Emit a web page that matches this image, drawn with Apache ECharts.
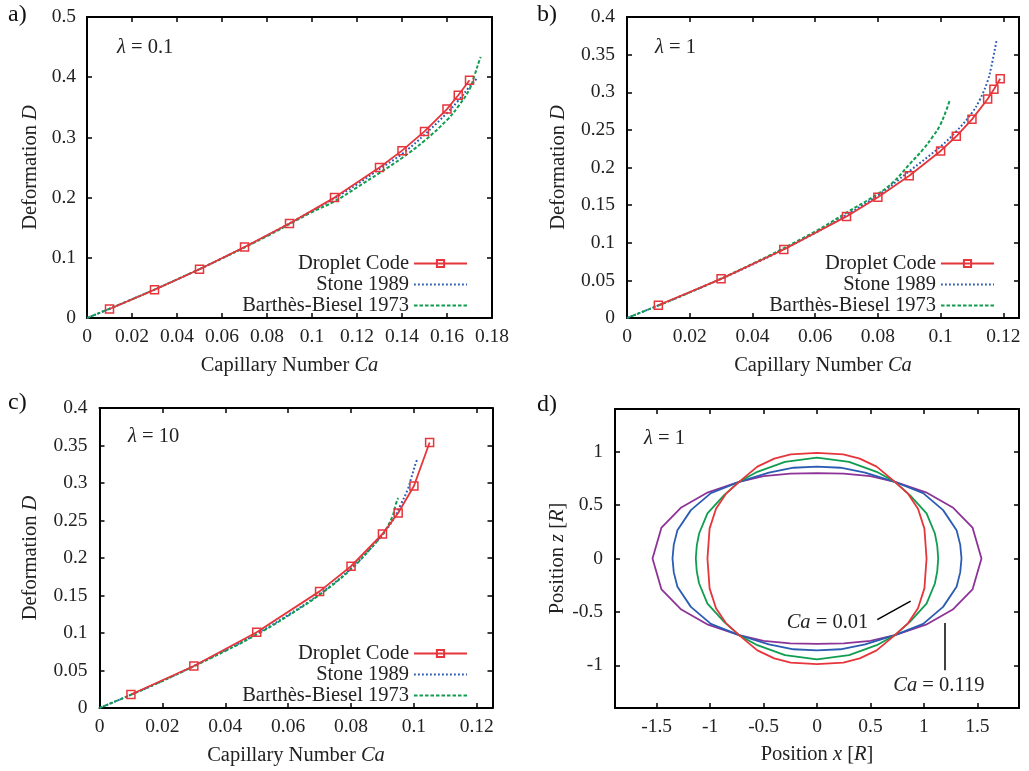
<!DOCTYPE html>
<html>
<head>
<meta charset="utf-8">
<script src="https://cdn.jsdelivr.net/npm/echarts@6/dist/echarts.min.js"></script>
<style>
  html, body { margin: 0; padding: 0; background: #fff; }
  #chart { width: 1029px; height: 771px; }
</style>
</head>
<body>
<div id="chart"></div>
<script>
// ---------------- data ----------------
// a) lambda = 0.1
const dropletCaA = [0.01, 0.03, 0.05, 0.07, 0.09, 0.11, 0.13, 0.14, 0.15, 0.16, 0.165, 0.17];
const dropletDA  = [0.015, 0.047, 0.081, 0.118, 0.157, 0.200, 0.250, 0.278, 0.310, 0.347, 0.370, 0.395];
const stoneCaA   = [0, 0.02, 0.04, 0.06, 0.08, 0.10, 0.11, 0.12, 0.13, 0.14, 0.15, 0.16, 0.165, 0.17, 0.1738];
const stoneDA    = [0, 0.031, 0.064, 0.099, 0.137, 0.178, 0.199, 0.222, 0.2475, 0.2724, 0.3045, 0.3405, 0.361, 0.384, 0.400];
const bbCaA      = [0, 0.02, 0.04, 0.06, 0.08, 0.10, 0.11, 0.12, 0.13, 0.14, 0.15, 0.16, 0.165, 0.17, 0.1723, 0.1745, 0.175];
const bbDA       = [0, 0.031, 0.064, 0.099, 0.136, 0.176, 0.1937, 0.217, 0.241, 0.2658, 0.2945, 0.329, 0.3515, 0.380, 0.404, 0.429, 0.4335];

// b) lambda = 1
const dropletCaB = [0.01, 0.03, 0.05, 0.07, 0.08, 0.09, 0.10, 0.105, 0.11, 0.115, 0.117, 0.119];
const dropletDB  = [0.017, 0.052, 0.091, 0.135, 0.1605, 0.189, 0.222, 0.2415, 0.264, 0.291, 0.304, 0.318];
const stoneCaB   = [0, 0.02, 0.04, 0.06, 0.07, 0.08, 0.09, 0.10, 0.105, 0.11, 0.1125, 0.115, 0.1162, 0.1178];
const stoneDB    = [0, 0.034, 0.071, 0.113, 0.137, 0.163, 0.195, 0.228, 0.248, 0.2727, 0.290, 0.315, 0.3346, 0.368];
const bbCaB      = [0, 0.02, 0.04, 0.06, 0.07, 0.08, 0.085, 0.09, 0.0944, 0.0976, 0.0997, 0.1019, 0.1029];
const bbDB       = [0, 0.034, 0.072, 0.115, 0.140, 0.165, 0.181, 0.204, 0.224, 0.2416, 0.255, 0.277, 0.2894];

// c) lambda = 10
const dropletCaC = [0.01, 0.03, 0.05, 0.07, 0.08, 0.09, 0.095, 0.10, 0.105];
const dropletDC  = [0.018, 0.056, 0.101, 0.1555, 0.189, 0.232, 0.260, 0.296, 0.354];
const stoneCaC   = [0, 0.02, 0.04, 0.05, 0.06, 0.07, 0.08, 0.09, 0.0937, 0.0958, 0.098, 0.099, 0.1006, 0.1011];
const stoneDC    = [0, 0.036, 0.077, 0.099, 0.124, 0.152, 0.186, 0.231, 0.2533, 0.271, 0.291, 0.3044, 0.3267, 0.332];
const bbCaC      = [0, 0.02, 0.04, 0.05, 0.06, 0.07, 0.08, 0.0878, 0.090, 0.0916, 0.0932, 0.0942, 0.095];
const bbDC       = [0, 0.036, 0.076, 0.098, 0.123, 0.151, 0.185, 0.220, 0.231, 0.242, 0.2555, 0.271, 0.280];

// d) droplet outlines (lambda = 1), upper-right quadrant from top (x = 0) to tip (z = 0)
const shapeCa001  = [[0, 0.99], [0.246, 0.975], [0.40, 0.935], [0.558, 0.86], [0.729, 0.718], [0.853, 0.605], [0.945, 0.465], [1.005, 0.28], [1.025, 0]];
const shapeCa005  = [[0, 0.944], [0.30, 0.905], [0.558, 0.812], [0.729, 0.718], [0.869, 0.593], [1.025, 0.422], [1.103, 0.234], [1.125, 0.12], [1.134, 0]];
const shapeCa010  = [[0, 0.86], [0.22, 0.85], [0.45, 0.805], [0.729, 0.718], [0.993, 0.612], [1.18, 0.453], [1.306, 0.265], [1.34, 0.13], [1.352, 0]];
const shapeCa0119 = [[0, 0.80], [0.25, 0.795], [0.50, 0.772], [0.729, 0.718], [1.02, 0.62], [1.27, 0.478], [1.455, 0.29], [1.539, 0]];

const xTicksD = [-1.5, -1, -0.5, 0, 0.5, 1, 1.5];
const yTicksD = [-1, -0.5, 0, 0.5, 1];

const legendNames = ['Droplet Code', 'Stone 1989', 'Barthès-Biesel 1973'];

// ---------------- styling ----------------
const FONT = 'Liberation Serif';
const TXT = '#222';
const FS = 19.5;    // tick labels
const FS2 = 20.5;   // titles, legend, annotations
const RED = '#e6353b';
const BLUE = '#2a5cb3';
const GREEN = '#0f9d4f';
const PURPLE = '#8d3398';
const CLEAR = 'rgba(255,255,255,0)';

const zip = (xs, ys) => xs.map((x, i) => [x, ys[i]]);

// closed outline from one quadrant, mirrored about both axes
function outline(q) {
  const pts = q.map(p => [p[0], p[1]]);
  for (let i = q.length - 2; i >= 0; i--) pts.push([q[i][0], -q[i][1]]);
  for (let i = 1; i < q.length; i++) pts.push([-q[i][0], -q[i][1]]);
  for (let i = q.length - 2; i >= 0; i--) pts.push([-q[i][0], q[i][1]]);
  return pts;
}

const richText = {
  r: { fontFamily: FONT, fontSize: FS2, color: TXT },
  i: { fontFamily: FONT, fontSize: FS2, fontStyle: 'italic', color: TXT }
};

function axisPair(kind, grid, cfg) {
  const base = {
    gridIndex: grid, type: 'value', min: cfg.min, max: cfg.max,
    axisLine: { show: true, onZero: false, lineStyle: { color: '#000', width: 2 } },
    axisTick: { show: true, inside: true, length: 5, lineStyle: { color: '#000', width: 1.5 } },
    splitLine: { show: false }
  };
  if (cfg.interval !== undefined) base.interval = cfg.interval;
  if (cfg.ticks) base.axisTick.customValues = cfg.ticks;
  const main = Object.assign({}, base, {
    position: kind === 'x' ? 'bottom' : 'left',
    axisLabel: {
      color: TXT, fontFamily: FONT, fontSize: FS, margin: kind === 'x' ? 9 : cfg.labelMargin,
      showMaxLabel: cfg.showMax !== false
    },
    name: cfg.name, nameLocation: 'middle', nameGap: cfg.nameGap,
    nameTextStyle: { fontFamily: FONT, fontSize: FS2, color: TXT, rich: richText }
  });
  if (cfg.ticks) main.axisLabel.customValues = cfg.ticks;
  const mirror = Object.assign({}, base, {
    position: kind === 'x' ? 'top' : 'right',
    axisLabel: { show: false }
  });
  return [main, mirror];
}

const caName = '{r|Capillary Number }{i|Ca}';
const dName = '{r|Deformation }{i|D}';

const xAxes = [].concat(
  axisPair('x', 0, { min: 0, max: 0.18, interval: 0.02, name: caName, nameGap: 37 }),
  axisPair('x', 1, { min: 0, max: 0.125, interval: 0.02, showMax: false, name: caName, nameGap: 37 }),
  axisPair('x', 2, { min: 0, max: 0.125, interval: 0.02, showMax: false, name: caName, nameGap: 37 }),
  axisPair('x', 3, { min: -1.89, max: 1.89, ticks: xTicksD, name: '{r|Position }{i|x}{r| [}{i|R}{r|]}', nameGap: 36 })
);
const yAxes = [].concat(
  axisPair('y', 0, { min: 0, max: 0.5, interval: 0.1, labelMargin: 11, name: dName, nameGap: 46 }),
  axisPair('y', 1, { min: 0, max: 0.4, interval: 0.05, labelMargin: 12, name: dName, nameGap: 58 }),
  axisPair('y', 2, { min: 0, max: 0.4, interval: 0.05, labelMargin: 12, name: dName, nameGap: 58 }),
  axisPair('y', 3, { min: -1.4, max: 1.4, ticks: yTicksD, labelMargin: 12, name: '{r|Position }{i|z}{r| [}{i|R}{r|]}', nameGap: 45 })
);

function panelSeries(idx, dCa, dD, sCa, sD, bCa, bD) {
  const ax = idx * 2;
  return [
    {
      name: legendNames[1], type: 'line', xAxisIndex: ax, yAxisIndex: ax,
      data: zip(sCa, sD), showSymbol: false, symbol: 'circle', symbolSize: 0, smooth: 0.4,
      lineStyle: { color: BLUE, width: 2, type: [1.8, 2.2] },
      itemStyle: { color: CLEAR, borderColor: CLEAR, borderWidth: 0 }, z: 2
    },
    {
      name: legendNames[2], type: 'line', xAxisIndex: ax, yAxisIndex: ax,
      data: zip(bCa, bD), showSymbol: false, symbol: 'circle', symbolSize: 0, smooth: 0.4,
      lineStyle: { color: GREEN, width: 2, type: [3.5, 2] },
      itemStyle: { color: CLEAR, borderColor: CLEAR, borderWidth: 0 }, z: 2
    },
    {
      name: legendNames[0], type: 'line', xAxisIndex: ax, yAxisIndex: ax,
      data: zip(dCa, dD), symbol: 'rect', symbolSize: 8, showSymbol: true,
      lineStyle: { color: RED, width: 1.8 },
      itemStyle: { color: CLEAR, borderColor: RED, borderWidth: 1.5 }, z: 3
    }
  ];
}

function shapeSeries(name, q, color, extra) {
  return Object.assign({
    name: name, type: 'line', xAxisIndex: 6, yAxisIndex: 6,
    data: outline(q), showSymbol: false, symbol: 'none', smooth: false,
    lineStyle: { color: color, width: 1.8 }, itemStyle: { color: color }
  }, extra || {});
}

const series = [].concat(
  panelSeries(0, dropletCaA, dropletDA, stoneCaA, stoneDA, bbCaA, bbDA),
  panelSeries(1, dropletCaB, dropletDB, stoneCaB, stoneDB, bbCaB, bbDB),
  panelSeries(2, dropletCaC, dropletDC, stoneCaC, stoneDC, bbCaC, bbDC),
  [
    shapeSeries('Ca = 0.119', shapeCa0119, PURPLE, {
      markLine: {
        silent: true, symbol: ['none', 'none'], label: { show: false },
        lineStyle: { color: '#000', width: 1.5, type: 'solid' },
        data: [
          [{ coord: [0.564, -0.572] }, { coord: [0.876, -0.40] }],
          [{ coord: [1.196, -0.604] }, { coord: [1.196, -1.047] }]
        ]
      },
      markPoint: {
        silent: true, symbol: 'circle', symbolSize: 0,
        label: { show: true, position: 'inside', fontFamily: FONT, fontSize: FS2, color: TXT, rich: richText },
        data: [
          { coord: [0.098, -0.604], label: { formatter: '{i|Ca}{r| = 0.01}' } },
          { coord: [1.14, -1.187], label: { formatter: '{i|Ca}{r| = 0.119}' } }
        ]
      }
    }),
    shapeSeries('Ca = 0.10', shapeCa010, BLUE),
    shapeSeries('Ca = 0.05', shapeCa005, GREEN),
    shapeSeries('Ca = 0.01', shapeCa001, RED)
  ]
);

function legendAt(right, top) {
  return {
    data: legendNames, orient: 'vertical', align: 'right', right: right, top: top,
    padding: 0, itemGap: 0, itemWidth: 53, itemHeight: 9, selectedMode: false,
    textStyle: { fontFamily: FONT, fontSize: FS2, color: TXT }
  };
}

function lambdaLabel(x, y, value) {
  return {
    type: 'text', x: x, y: y, silent: true,
    style: {
      text: '{i|λ}{r| = ' + value + '}', rich: richText,
      verticalAlign: 'middle', align: 'left', fill: TXT, fontFamily: FONT, fontSize: FS2
    }
  };
}

function panelLetter(x, y, t) {
  return {
    type: 'text', x: x, y: y, silent: true,
    style: { text: t, fontFamily: FONT, fontSize: 24, fill: '#111', verticalAlign: 'middle', align: 'left' }
  };
}

const option = {
  animation: false,
  backgroundColor: '#fff',
  grid: [
    { left: 87, top: 17, width: 405, height: 301 },
    { left: 627, top: 17, width: 392, height: 301 },
    { left: 99.5, top: 408, width: 393, height: 300 },
    { left: 615, top: 409, width: 404, height: 299 }
  ],
  xAxis: xAxes,
  yAxis: yAxes,
  legend: [legendAt(561, 253), legendAt(34, 253), legendAt(561, 643)],
  series: series,
  graphic: [
    lambdaLabel(117, 48, '0.1'),
    lambdaLabel(655, 48, '1'),
    lambdaLabel(128, 437, '10'),
    lambdaLabel(644, 439, '1'),
    panelLetter(8, 15, 'a)'),
    panelLetter(537, 15, 'b)'),
    panelLetter(8, 403, 'c)'),
    panelLetter(537, 405, 'd)')
  ]
};

const chart = echarts.init(document.getElementById('chart'), null, { renderer: 'canvas' });
chart.setOption(option);
</script>
</body>
</html>
